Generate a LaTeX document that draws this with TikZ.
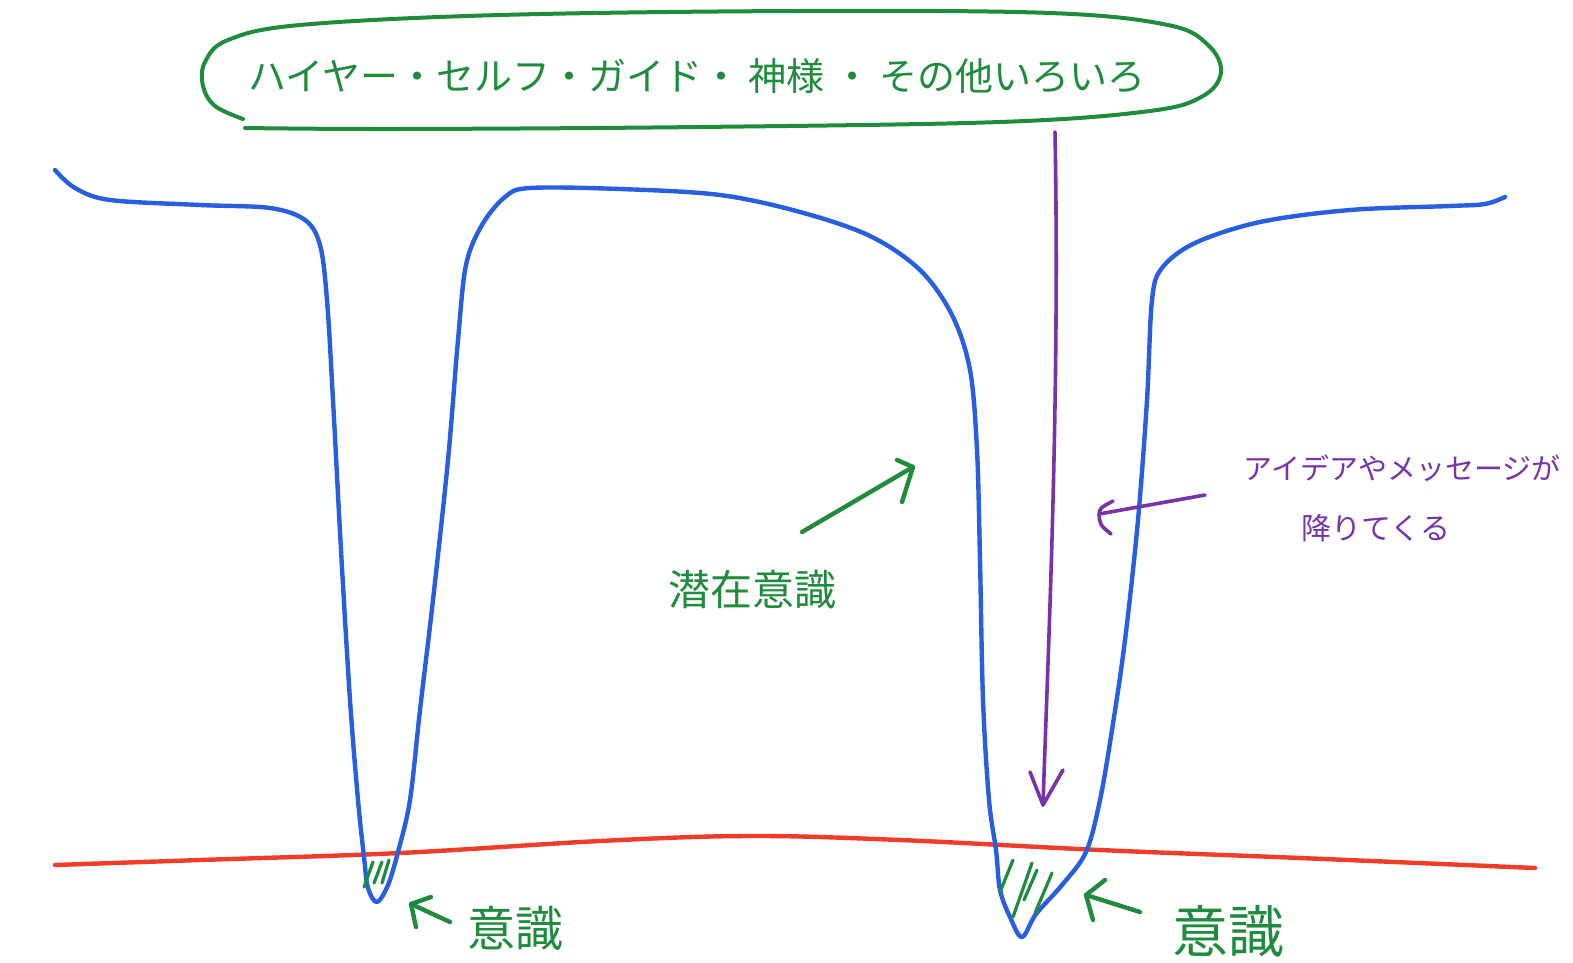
\documentclass[tikz,border=0pt]{standalone}
\usepackage{fontspec}
\newfontfamily\jp{Noto Sans CJK JP}
\definecolor{penblue}{RGB}{40,95,225}
\definecolor{pengreen}{RGB}{30,140,60}
\definecolor{penred}{RGB}{240,60,40}
\definecolor{penpurple}{RGB}{120,50,170}
\tikzset{
  pen/.style={line width=4.4pt, line cap=round, line join=round},
  bluepen/.style={pen, draw=penblue},
  greenpen/.style={pen, draw=pengreen},
  redpen/.style={pen, draw=penred},
  purplepen/.style={pen, draw=penpurple, line width=3.6pt},
  hatch/.style={pen, draw=pengreen, line width=3.2pt},
  lbl/.style={inner sep=0pt, font=\jp},
}
\begin{document}
\begin{tikzpicture}[x=1pt,y=-1pt]
\useasboundingbox[fill=white] (0,0) rectangle (1573,963);

% red line (border of consciousness)
\draw[redpen] plot[smooth, tension=0.6] coordinates {(55,865) (200,860) (400,853) (600,841) (750,836) (900,840) (1100,850) (1300,858) (1535,868)};

% blue curve
\draw[bluepen] plot[smooth, tension=0.55] coordinates {
 (55,170) (75,188) (110,200) (200,205) (270,208) (305,220) (320,245) (327,300) (333,400) (341,550) (350,700) (358,800) (364,857) (368,888) (377,902)
 (388,885) (398,852) (410,800) (420,710) (433,600) (448,460) (458,340) (466,265) (482,225) (505,197) (530,188) (620,189) (720,195) (800,212) (870,236) (920,270) (952,315) (970,370) (977,450) (980,560) (983,700) (989,800) (996,850) (1000,890) (1010,917) (1022,937)
 (1036,914) (1062,885) (1086,852) (1100,800) (1112,730) (1125,640) (1138,520) (1147,400) (1152,300) (1162,268) (1195,243) (1260,222) (1350,210) (1450,206) (1485,204) (1505,197)};

% hatching in the tips
\draw[hatch] (373,862) -- (364,887);
\draw[hatch] (382,862) -- (374,883);
\draw[hatch] (389,860) -- (382,883);
\draw[hatch] (1013,860) -- (1000,892);
\draw[hatch] (1032,863) -- (1013,917);
\draw[hatch] (1037,870) -- (1024,900);
\draw[hatch] (1052,873) -- (1035,913);

% green cloud
\draw[greenpen, line width=4pt] plot[smooth, tension=0.6] coordinates {
 (245,128) (400,129) (700,127) (1000,122) (1150,111) (1203,96) (1221,72) (1208,45) (1168,25) (1050,13) (800,11) (500,15) (300,25) (228,40) (205,62) (203,86) (215,106) (243,119)};

\node[lbl, text=pengreen, font=\jp\fontsize{38}{40}\selectfont] (top) at (697,76) {ハイヤー・セルフ・ガイド・ 神様 ・ その他いろいろ};

% purple arrow down
\coordinate (pstart) at (1055,132);
\coordinate (ptip) at (1043,805);
\draw[purplepen] (pstart) .. controls (1060,400) and (1048,650) .. (ptip);
\draw[purplepen] (1030,772) -- (ptip) -- (1063,770);

% purple side arrow and text
\node[lbl, text=penpurple, font=\jp\fontsize{29}{31}\selectfont] (ideas) at (1402,468) {アイデアやメッセージが};
\node[lbl, text=penpurple, font=\jp\fontsize{30}{32}\selectfont] (down) at (1376,528) {降りてくる};
\coordinate (sidestart) at (1205,495);
\coordinate (sidetip) at (1099,514);
\draw[purplepen] (sidestart) -- (sidetip);
\draw[purplepen] (1113,501) .. controls (1100,508) .. (sidetip) .. controls (1100,525) .. (1111,534);

% subconscious label and arrow
\node[lbl, text=pengreen, font=\jp\fontsize{42}{44}\selectfont] (sub) at (752,590) {潜在意識};
\coordinate (gstart) at (802,532);
\coordinate (gtip) at (913,467);
\draw[greenpen] (gstart) -- (gtip);
\draw[greenpen] (897,460) -- (gtip) -- (902,502);

% consciousness labels
\node[lbl, text=pengreen, font=\jp\fontsize{48}{50}\selectfont] (con1) at (515,928) {意識};
\coordinate (c1start) at (450,922);
\coordinate (c1tip) at (411,904);
\draw[greenpen] (c1start) -- (c1tip);
\draw[greenpen] (431,897) -- (c1tip) -- (416,927);

\node[lbl, text=pengreen, font=\jp\fontsize{56}{58}\selectfont] (con2) at (1228,931) {意識};
\coordinate (c2start) at (1140,912);
\coordinate (c2tip) at (1086,895);
\draw[greenpen] (c2start) -- (c2tip);
\draw[greenpen] (1105,880) -- (c2tip) -- (1093,920);
\end{tikzpicture}
\end{document}
